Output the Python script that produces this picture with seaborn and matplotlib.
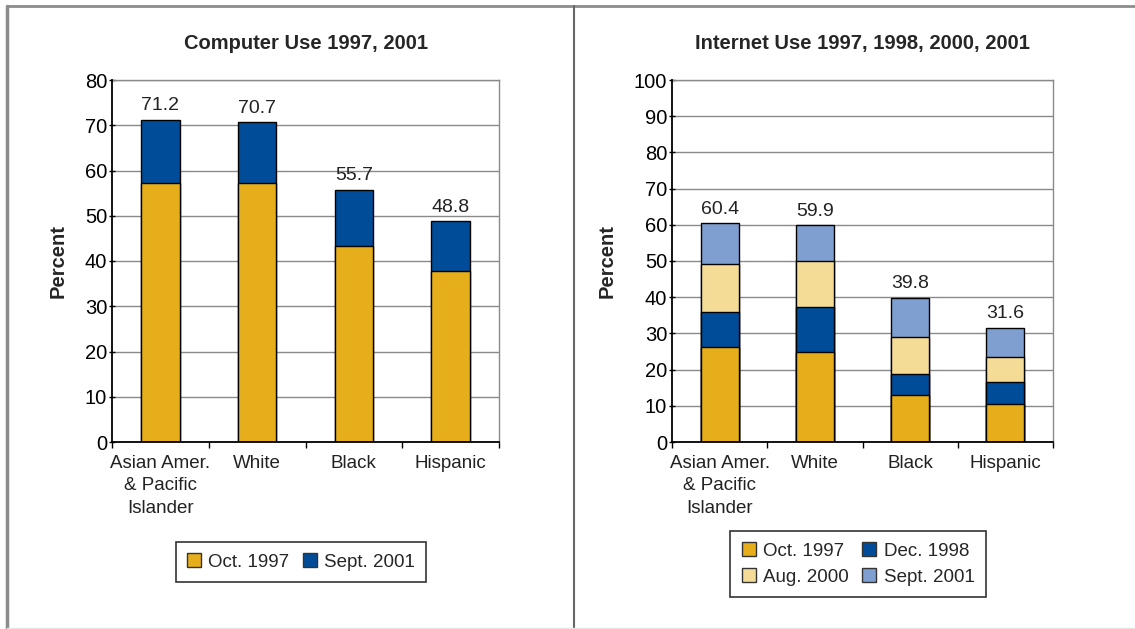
import matplotlib
matplotlib.use("Agg")
import matplotlib.pyplot as plt
from matplotlib.lines import Line2D
from matplotlib.patches import Patch
import seaborn as sns
import pandas as pd

# Categories shared by both panels
groups = ["Asian Amer.\n& Pacific\nIslander", "White", "Black", "Hispanic"]

# Computer use (percent of persons) at each survey date
computer_oct_1997 = [57.2, 57.2, 43.4, 37.7]
computer_sep_2001 = [71.2, 70.7, 55.7, 48.8]

# Internet use (percent of persons) at each survey date
internet_oct_1997 = [26.3, 24.9, 13.0, 10.6]
internet_dec_1998 = [35.8, 37.2, 18.9, 16.6]
internet_aug_2000 = [49.3, 50.0, 29.1, 23.6]
internet_sep_2001 = [60.4, 59.9, 39.8, 31.6]

GOLD = "#E6AE1A"
NAVY = "#004C99"
CREAM = "#F5DC96"
SKY = "#7F9FD0"

sns.set_theme(style="white")
plt.rcParams["font.family"] = ["Liberation Sans", "DejaVu Sans"]

fig = plt.figure(figsize=(11.35, 6.29), dpi=100)
ax1 = fig.add_axes([112 / 1135, 1 - 442 / 629, 387 / 1135, 362 / 629])
ax2 = fig.add_axes([672 / 1135, 1 - 442 / 629, 381 / 1135, 362 / 629])


def draw_panel(ax, series, ymax, title):
    # Later (taller) surveys drawn first so earlier levels sit in front
    for label, values, color in reversed(series):
        df = pd.DataFrame({"group": groups, "pct": values})
        sns.barplot(data=df, x="group", y="pct", order=groups, color=color,
                    width=0.4, edgecolor="black", linewidth=1.0,
                    saturation=1, ax=ax, zorder=3)
    totals = series[-1][1]
    for i, v in enumerate(totals):
        ax.annotate(f"{v:.1f}", (i, v), xytext=(0, 4), textcoords="offset points",
                    ha="center", va="bottom", fontsize=14, color="#222222")
    ax.set_xlim(-0.5, 3.5)
    ax.set_ylim(0, ymax)
    ax.set_yticks(range(0, ymax + 1, 10))
    ax.yaxis.grid(True, color="#8a8a8a", linewidth=1.0, zorder=0)
    ax.set_axisbelow(True)
    ax.set_xlabel("")
    ax.set_ylabel("Percent", fontsize=14.5, fontweight="bold", labelpad=12)
    ax.set_title(title, fontsize=14.5, fontweight="bold", pad=22)
    ax.tick_params(axis="y", which="major", direction="inout", length=5, width=1,
                   left=True, labelsize=14.5, colors="black", pad=1)
    ax.set_xticks([0, 1, 2, 3])
    ax.set_xticklabels(groups, fontsize=13.5, linespacing=1.45)
    ax.set_xticks([-0.5, 0.5, 1.5, 2.5, 3.5], minor=True)
    ax.tick_params(axis="x", which="major", length=0, pad=9, colors="#222222")
    ax.tick_params(axis="x", which="minor", direction="out", length=4, width=1,
                   bottom=True, color="black")
    for side in ("left", "bottom"):
        ax.spines[side].set_color("black")
        ax.spines[side].set_linewidth(1.3)
    for side in ("top", "right"):
        ax.spines[side].set_color("#8a8a8a")
        ax.spines[side].set_linewidth(1.0)
    ax.spines["left"].set_zorder(5)
    ax.spines["bottom"].set_zorder(5)


draw_panel(ax1, [("Oct. 1997", computer_oct_1997, GOLD),
                 ("Sept. 2001", computer_sep_2001, NAVY)],
           80, "Computer Use 1997, 2001")
draw_panel(ax2, [("Oct. 1997", internet_oct_1997, GOLD),
                 ("Dec. 1998", internet_dec_1998, NAVY),
                 ("Aug. 2000", internet_aug_2000, CREAM),
                 ("Sept. 2001", internet_sep_2001, SKY)],
           100, "Internet Use 1997, 1998, 2000, 2001")


def legend_box(handles, center, ncol):
    leg = fig.legend(handles=handles, loc="center", bbox_to_anchor=center,
                     ncol=ncol, frameon=True, fancybox=False, fontsize=13.5,
                     handlelength=0.75, handleheight=0.75, handletextpad=0.4,
                     columnspacing=0.7, labelspacing=0.45, borderpad=0.6)
    leg.get_frame().set_edgecolor("black")
    leg.get_frame().set_linewidth(1.2)
    return leg


def sw(color, label):
    return Patch(facecolor=color, edgecolor="#333333", linewidth=1.0, label=label)


legend_box([sw(GOLD, "Oct. 1997"), sw(NAVY, "Sept. 2001")], (301 / 1135, 1 - 562 / 629), 2)
legend_box([sw(GOLD, "Oct. 1997"), sw(CREAM, "Aug. 2000"),
            sw(NAVY, "Dec. 1998"), sw(SKY, "Sept. 2001")], (858 / 1135, 1 - 564 / 629), 2)

# Outer frame and panel divider
frame_color = "#8c8c8c"
fig.add_artist(Line2D([7 / 1135, 1.0], [1 - 6 / 629, 1 - 6 / 629],
                      transform=fig.transFigure, color=frame_color, linewidth=2))
fig.add_artist(Line2D([7 / 1135, 7 / 1135], [1 - 6 / 629, 0.0],
                      transform=fig.transFigure, color=frame_color, linewidth=2.5))
fig.add_artist(Line2D([573.5 / 1135, 573.5 / 1135], [1 - 6 / 629, 0.0],
                      transform=fig.transFigure, color="#666666", linewidth=1.5))
fig.add_artist(Line2D([7 / 1135, 1.0], [1.5 / 629, 1.5 / 629],
                      transform=fig.transFigure, color="#e6e6e6", linewidth=1))

fig.savefig("out.png", dpi=100, facecolor="white")
